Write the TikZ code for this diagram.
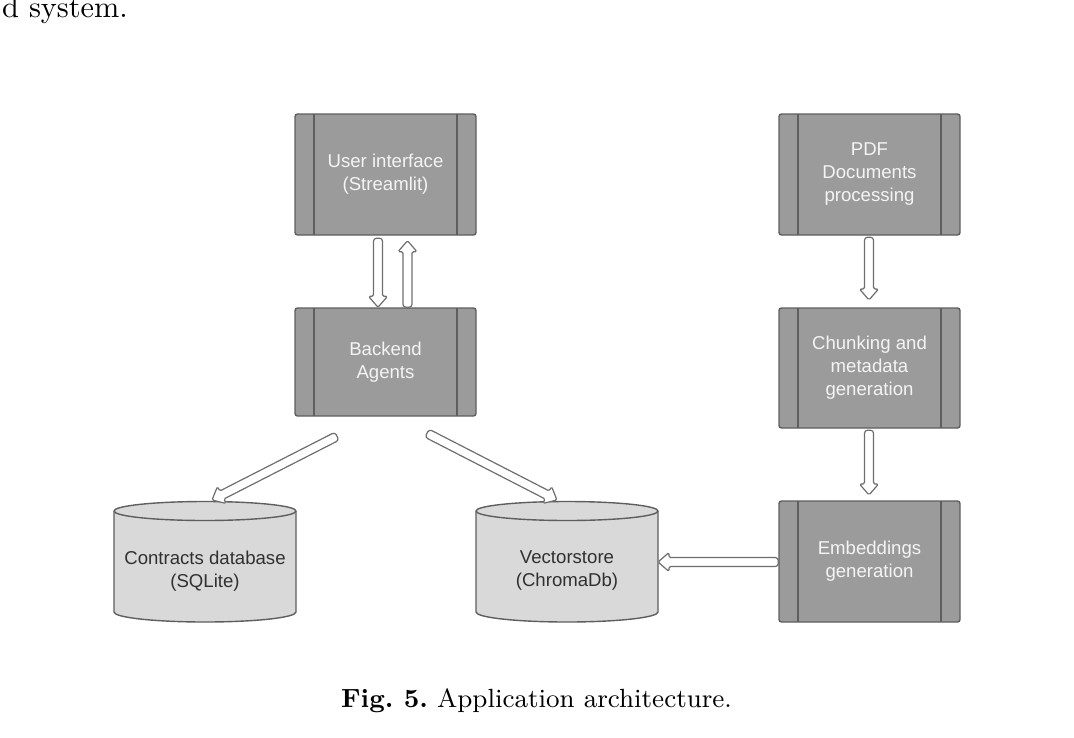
\documentclass[tikz,border=0pt]{standalone}
\usepackage{fontspec}
\newfontfamily\diagfont{Liberation Sans}
\usetikzlibrary{calc}
\definecolor{boxfill}{HTML}{9B9B9B}
\definecolor{boxline}{HTML}{5E5E5E}
\definecolor{dbfill}{HTML}{D9D9D9}
\definecolor{arrline}{HTML}{6E6E6E}
\definecolor{boxtext}{HTML}{F4F4F4}
\definecolor{dbtext}{HTML}{303030}
\tikzset{
  procbox/.style={draw=boxline, fill=boxfill, line width=1.4pt, rounded corners=2.5pt,
    minimum width=181pt, minimum height=121pt, inner sep=0pt, text=boxtext,
    font=\diagfont\fontsize{18.6}{23}\selectfont, align=center,
    path picture={\draw[boxline, line width=1.4pt]
      ([xshift=19pt]path picture bounding box.north west) -- ([xshift=19pt]path picture bounding box.south west)
      ([xshift=-19pt]path picture bounding box.north east) -- ([xshift=-19pt]path picture bounding box.south east);}},
  dbshape/.style={draw=boxline, fill=dbfill, line width=1.4pt},
  dbrim/.style={draw=boxline, line width=1.4pt},
  dblabel/.style={text=dbtext, font=\diagfont\fontsize{18.6}{23}\selectfont, align=center, inner sep=0pt},
  blockarr/.style={draw=arrline, fill=white, line width=1.2pt, rounded corners=1.5pt, line join=round},
  papertext/.style={inner sep=0pt, scale=3.03, transform shape, text=black}
}
% block arrow from #1 (tail) to #2 (tip)
\newcommand\blockarrow[2]{%
  \coordinate (bah) at ($(#2)!11pt!(#1)$);
  \draw[blockarr] (#2) -- ($(bah)!9.5pt!90:(#2)$) -- ($(bah)!4.5pt!90:(#2)$)
    [rounded corners=3pt] -- ($(#1)!4.5pt!90:(#2)$) -- ($(#1)!4.5pt!-90:(#2)$)
    [rounded corners=1.5pt] -- ($(bah)!4.5pt!-90:(#2)$) -- ($(bah)!9.5pt!-90:(#2)$) -- cycle;
}
\newcommand\dbcylinder[3]{% center x, top y, bottom y
  \draw[dbshape] ({#1-91},#2) -- ({#1-91},#3) arc[start angle=180, end angle=360, x radius=91, y radius=10]
    -- ({#1+91},#2) arc[start angle=0, end angle=180, x radius=91, y radius=9.5] -- cycle;
  \draw[dbrim] ({#1-91},#2) arc[start angle=180, end angle=360, x radius=91, y radius=9.5];
}
\begin{document}
\begin{tikzpicture}[x=1pt, y=1pt]
\useasboundingbox (0,0) rectangle (1074,-737);

% surrounding paper text
\node[papertext, anchor=base west, font=\fontsize{10}{12}\selectfont] (prevline) at (1.5,-17.5) {d system.};
\node[papertext, scale=0.965, anchor=base, font=\fontsize{9}{11}\selectfont] (caption) at (536.5,-707)
  {\frenchspacing\textbf{Fig.\ 5.} Application architecture.};

% process boxes
\node[procbox] (ui) at (385.5,-174.5) {User interface\\(Streamlit)};
\node[procbox, minimum height=108pt] (be) at (385.5,-362) {Backend\\Agents};
\node[procbox] (pdf) at (869.5,-174.5) {PDF\\Documents\\processing};
\node[procbox, minimum height=120pt] (chunk) at (869.5,-368) {Chunking and\\metadata\\generation};
\node[procbox] (emb) at (869.5,-561.5) {Embeddings\\generation};

% databases
\dbcylinder{205}{-511}{-612}
\dbcylinder{567}{-511}{-612}
\coordinate (db1top) at (205,-501.5);
\coordinate (db2top) at (567,-501.5);
\coordinate (db2east) at (658,-562);
\node[dblabel] (db1) at (205,-571) {Contracts database\\(SQLite)};
\node[dblabel] (db2) at (567,-571) {Vectorstore\\(ChromaDb)};

% arrow end points
\coordinate (a1t) at ($(ui.south)+(-7.5,-2.5)$);
\coordinate (a1h) at ($(be.north)+(-7.5,0)$);
\coordinate (a2t) at ($(be.north)+(22,0)$);
\coordinate (a2h) at ($(ui.south)+(22,-5)$);
\coordinate (a3t) at ($(be.south)+(-48.5,-19.5)$);
\coordinate (a3h) at ($(db1top)+(7,1.5)$);
\coordinate (a4t) at ($(be.south)+(41.5,-16.5)$);
\coordinate (a4h) at ($(db2top)+(-10,1.5)$);
\coordinate (a5t) at ($(pdf.south)+(-0.5,-1.5)$);
\coordinate (a5h) at ($(chunk.north)+(-0.5,7.3)$);
\coordinate (a6t) at ($(chunk.south)+(-0.5,-1.5)$);
\coordinate (a6h) at ($(emb.north)+(-0.5,5.3)$);
\coordinate (a7t) at ($(emb.west)+(0,-0.5)$);
\coordinate (a7h) at (db2east);

\blockarrow{a1t}{a1h}
\blockarrow{a2t}{a2h}
\blockarrow{a3t}{a3h}
\blockarrow{a4t}{a4h}
\blockarrow{a5t}{a5h}
\blockarrow{a6t}{a6h}
\blockarrow{a7t}{a7h}
\end{tikzpicture}
\end{document}
